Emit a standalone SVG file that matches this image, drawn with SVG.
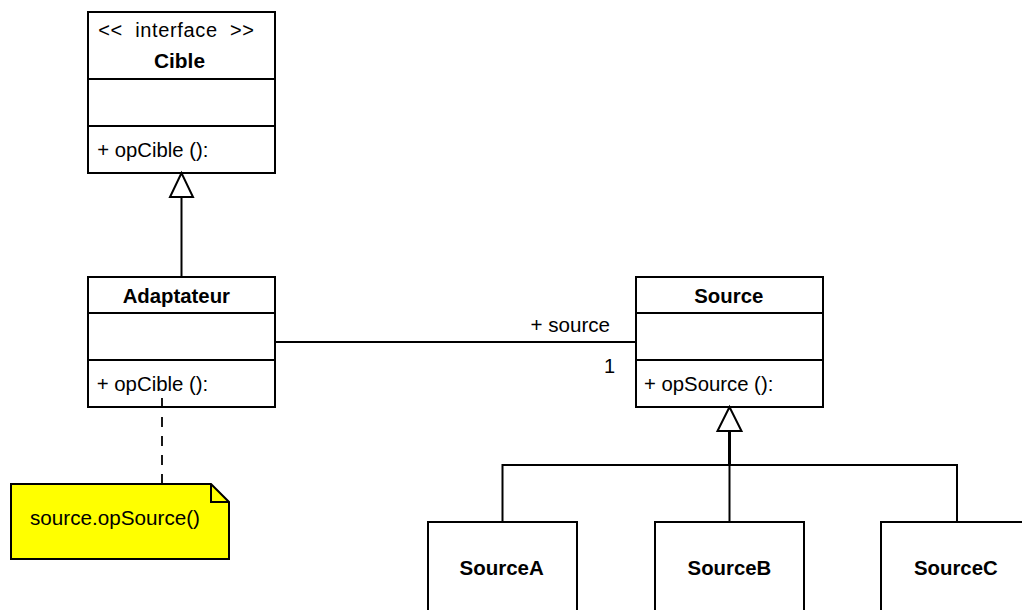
<svg xmlns="http://www.w3.org/2000/svg" width="1022" height="610" viewBox="0 0 1022 610">
<style>
.box{fill:#fff;stroke:#000;stroke-width:2}
.div{stroke:#000;stroke-width:2}
.ln{fill:none;stroke:#000;stroke-width:2}
.tri{fill:#fff;stroke:#000;stroke-width:2}
.t{font-family:"Liberation Sans",Arial,sans-serif;font-size:20px;fill:#000}
.b{font-weight:bold}
.note{fill:#ffff00;stroke:#000;stroke-width:2}
</style>
<rect width="1022" height="610" fill="#fff"/>
<g id="cible">
  <rect class="box" x="88" y="12" width="187" height="161"/>
  <line class="div" x1="88" y1="79" x2="275" y2="79"/>
  <line class="div" x1="88" y1="126" x2="275" y2="126"/>
  <text class="t" x="98.3" y="37" textLength="155.7" lengthAdjust="spacing" xml:space="preserve">&lt;&lt;  interface  &gt;&gt;</text>
  <text class="t b" x="154" y="68" textLength="51" lengthAdjust="spacingAndGlyphs">Cible</text>
  <text class="t" x="97.3" y="157" textLength="111" lengthAdjust="spacingAndGlyphs">+ opCible ():</text>
</g>
<g id="adaptateur">
  <rect class="box" x="88" y="277" width="187" height="130"/>
  <line class="div" x1="88" y1="313" x2="275" y2="313"/>
  <line class="div" x1="88" y1="360" x2="275" y2="360"/>
  <text class="t b" x="122.7" y="302.7" textLength="107.3" lengthAdjust="spacingAndGlyphs">Adaptateur</text>
  <text class="t" x="96.7" y="390.7" textLength="111.6" lengthAdjust="spacingAndGlyphs">+ opCible ():</text>
</g>
<g id="note">
  <polygon class="note" points="11,484 211,484 229,502 229,559 11,559"/>
  <polyline class="ln" points="211,484 211,502 229,502"/>
  <text class="t" x="30" y="525" textLength="170" lengthAdjust="spacingAndGlyphs">source.opSource()</text>
</g>
<g id="source">
  <rect class="box" x="636" y="277" width="187" height="130"/>
  <line class="div" x1="636" y1="313" x2="823" y2="313"/>
  <line class="div" x1="636" y1="360" x2="823" y2="360"/>
  <text class="t b" x="694.3" y="302.7" textLength="69" lengthAdjust="spacingAndGlyphs">Source</text>
  <text class="t" x="644" y="390.7" textLength="129.3" lengthAdjust="spacingAndGlyphs">+ opSource ():</text>
</g>
<g id="sourceA">
  <rect class="box" x="428" y="522" width="149" height="120"/>
  <text class="t b" x="459.5" y="575" textLength="84.3" lengthAdjust="spacingAndGlyphs">SourceA</text>
</g>
<g id="sourceB">
  <rect class="box" x="655" y="522" width="149" height="120"/>
  <text class="t b" x="687.6" y="575" textLength="83.6" lengthAdjust="spacingAndGlyphs">SourceB</text>
</g>
<g id="sourceC">
  <rect class="box" x="881" y="522" width="149" height="120"/>
  <text class="t b" x="914" y="575" textLength="83.7" lengthAdjust="spacingAndGlyphs">SourceC</text>
</g>
<g id="connectors">
  <line class="ln" x1="181.5" y1="197" x2="181.5" y2="277"/>
  <polygon class="tri" points="181.5,173 170,197 193,197"/>
  <line class="ln" x1="275" y1="342" x2="636" y2="342"/>
  <text class="t" x="530.5" y="332" textLength="79.5" lengthAdjust="spacingAndGlyphs">+ source</text>
  <text class="t" x="604" y="373">1</text>
  <line x1="162" y1="398" x2="162" y2="484" stroke="#000" stroke-width="1.8" stroke-dasharray="10,9"/>
  <line x1="729.5" y1="431" x2="729.5" y2="465" stroke="#000" stroke-width="3"/>
  <polyline class="ln" points="502.5,522 502.5,465 957,465 957,522"/>
  <line class="ln" x1="729.5" y1="465" x2="729.5" y2="522"/>
  <polygon class="tri" points="729.5,407 717.5,431 741.5,431"/>
</g>
</svg>
